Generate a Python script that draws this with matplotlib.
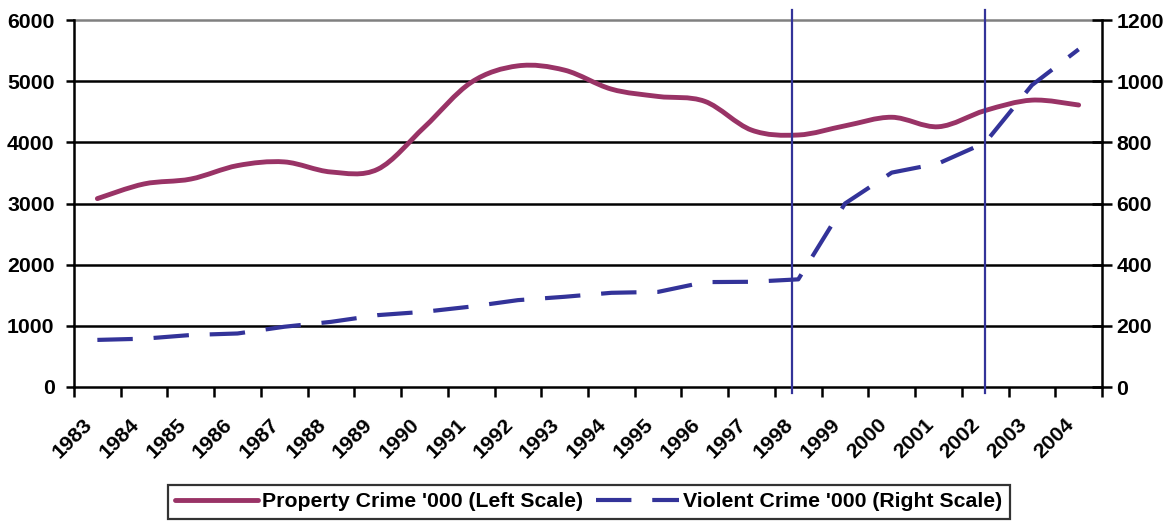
import matplotlib
matplotlib.use("Agg")
import matplotlib.pyplot as plt
from matplotlib.path import Path
from matplotlib.patches import PathPatch
from matplotlib.lines import Line2D
from matplotlib.transforms import ScaledTranslation
import numpy as np

plt.rcParams['font.family'] = ['Liberation Sans', 'DejaVu Sans']
plt.rcParams['font.weight'] = 'bold'

years = ['1983', '1984', '1985', '1986', '1987', '1988', '1989', '1990', '1991', '1992', '1993',
         '1994', '1995', '1996', '1997', '1998', '1999', '2000', '2001', '2002', '2003', '2004']
property_crime = [3080, 3320, 3400, 3620, 3680, 3515, 3560, 4250, 4980, 5250, 5180,
                  4870, 4750, 4670, 4200, 4120, 4270, 4410, 4255, 4520, 4690, 4610]
violent_crime = [154, 158, 170, 175, 197, 213, 235, 246, 263, 284, 295,
                 308, 311, 343, 344, 352, 600, 701, 731, 799, 987, 1104]
left_ticks = [0, 1000, 2000, 3000, 4000, 5000, 6000]
right_ticks = [0, 200, 400, 600, 800, 1000, 1200]
vline_positions = [14.87, 19.0]   # category index positions of marker lines
legend_labels = ["Property Crime '000 (Left Scale)", "Violent Crime '000 (Right Scale)"]

PROP_COLOR = '#993366'
VIOL_COLOR = '#333399'
FS = 15.3

fig = plt.figure(figsize=(11.74, 5.23), dpi=100)
W, H = 1174, 523
ax = fig.add_axes([74 / W, 1 - 387 / H, (1102 - 74) / W, (387 - 20) / H])
ax2 = ax.twinx()

n = len(years)
x = np.arange(n)
ax.set_xlim(-0.5, n - 0.5)
ax.set_ylim(0, 6000)
ax2.set_ylim(0, 1200)

# gridlines
for v in left_ticks[1:]:
    ax.axhline(v, color='#808080' if v == 6000 else 'black', lw=1.8, zorder=1, clip_on=False)

# smoothed property line (Excel-style Bezier through the points)
pts = np.column_stack([x, property_crime]).astype(float)
verts = [tuple(pts[0])]
codes = [Path.MOVETO]
for i in range(n - 1):
    p0 = pts[i - 1] if i > 0 else pts[i]
    p1 = pts[i]
    p2 = pts[i + 1]
    p3 = pts[i + 2] if i + 2 < n else pts[i + 1]
    c1 = p1 + (p2 - p0) / 6.0
    c2 = p2 - (p3 - p1) / 6.0
    verts += [tuple(c1), tuple(c2), tuple(p2)]
    codes += [Path.CURVE4] * 3
patch = PathPatch(Path(verts, codes), facecolor='none', edgecolor=PROP_COLOR, lw=3.5,
                  capstyle='round', joinstyle='round', zorder=4)
ax.add_patch(patch)

dash = (0, (8.5, 5.0))
ax2.plot(x, violent_crime, color=VIOL_COLOR, lw=3.0, linestyle=dash,
         dash_capstyle='butt', zorder=5)

# vertical marker lines
for vx in vline_positions:
    ax.plot([vx, vx], [-100, 6160], color=VIOL_COLOR, lw=1.6, clip_on=False, zorder=6)
ax.set_ylim(0, 6000)

# spines
for a in (ax, ax2):
    a.spines['top'].set_visible(False)
    for s in ('left', 'right', 'bottom'):
        a.spines[s].set_linewidth(1.8)
        a.spines[s].set_color('black')
ax.spines['right'].set_visible(False)
ax2.spines['left'].set_visible(False)
ax2.spines['bottom'].set_visible(False)

ax.set_yticks(left_ticks)
ax.set_yticklabels([str(v) for v in left_ticks], fontsize=FS, fontweight='bold')
ax.tick_params(axis='y', direction='out', length=6, width=1.8, pad=8)
ax2.set_yticks(right_ticks)
ax2.set_yticklabels([str(v) for v in right_ticks], fontsize=FS, fontweight='bold')
ax2.tick_params(axis='y', direction='inout', length=15, width=1.8, pad=3)

ax.set_xticks(np.arange(n + 1) - 0.5)
ax.set_xticklabels([])
ax.tick_params(axis='x', direction='out', length=7, width=1.8)

trans = ax.get_xaxis_transform() + ScaledTranslation(-8 / 100, -35 / 100, fig.dpi_scale_trans)
for i, lab in enumerate(years):
    ax.text(i, 0, lab, transform=trans, rotation=45, ha='right', va='center',
            rotation_mode='anchor', fontsize=FS, fontweight='bold', clip_on=False)

handles = [Line2D([], [], color=PROP_COLOR, lw=3.5, solid_capstyle='round'),
           Line2D([], [], color=VIOL_COLOR, lw=3.0, linestyle=dash, dash_capstyle='butt')]
leg = fig.legend(handles, legend_labels, loc='upper center', ncol=2,
                 bbox_to_anchor=(588.5 / W, 1 - 485 / H), frameon=True, fancybox=False,
                 prop={'size': FS, 'weight': 'bold'}, handlelength=3.9, handletextpad=0.2,
                 columnspacing=0.6, borderpad=0.35, borderaxespad=0)
leg.get_frame().set_edgecolor('black')
leg.get_frame().set_linewidth(1.6)

fig.savefig('out.png', dpi=100)
